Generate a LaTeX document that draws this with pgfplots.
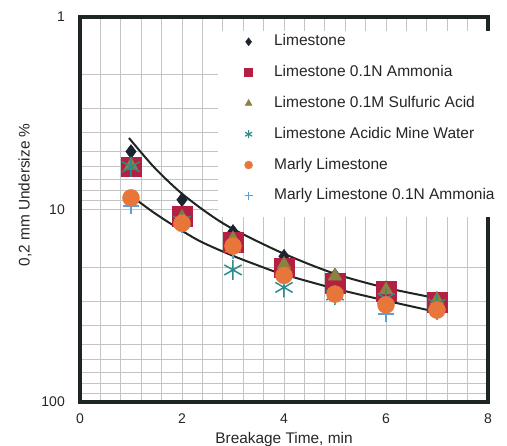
\documentclass[border=0pt]{standalone}
\usepackage{pgfplots}
\pgfplotsset{compat=1.18}
\usepackage{fontspec}
\setmainfont{Liberation Sans}
\definecolor{axcol}{HTML}{1E2622}
\definecolor{gridc}{HTML}{C4C4C4}
\definecolor{cdia}{HTML}{1C2330}
\definecolor{csq}{HTML}{B32041}
\definecolor{ctri}{HTML}{8A8240}
\definecolor{cteal}{HTML}{2C8C8C}
\definecolor{corange}{HTML}{E8763A}
\definecolor{cplus}{HTML}{5E9ED6}
\begin{document}
\begin{tikzpicture}
\begin{axis}[name=ax, scale only axis, width=408bp, height=385bp,
  xmin=0, xmax=8, ymin=1, ymax=100, ymode=log, y dir=reverse,
  xtick={0,2,4,6,8}, minor x tick num=4,
  ytick={1,10,100}, yticklabels={1,10,100},
  grid=both,
  major grid style={gridc, line width=0.9bp},
  minor grid style={gridc, line width=0.9bp},
  major tick length=0pt, minor tick length=0pt,
  axis line style={axcol, line width=3.5bp},
  clip=false,
  /pgf/number format/assume math mode=true,
  ticklabel style={font=\fontsize{14bp}{16bp}\selectfont, text=black!85},
  yticklabel style={anchor=east, inner sep=0pt, xshift=-15bp},
  xticklabel style={anchor=north, inner sep=0pt, yshift=-12bp},
  xlabel={Breakage Time, min},
  ylabel={0,2 mm Undersize \%},
  label style={font=\fontsize{15.4bp}{18bp}\selectfont, text=black!85},
  xlabel style={at={(axis description cs:0.5,-0.0975)}, anchor=center},
  ylabel style={at={(axis description cs:-0.135,0.538)}, anchor=center},
  legend style={draw=none, fill=none, at={(0.403,0.962)}, anchor=north west,
    inner sep=0pt, font=\fontsize{15.5bp}{18bp}\selectfont, text=black!85,
    row sep=10.8bp,
    nodes={inner xsep=3bp, inner ysep=3bp, text height=11bp, text depth=3bp},
    /tikz/every odd column/.append style={column sep=18.5bp}},
  legend cell align=left,
  legend image post style={mark size=4bp},
]
% white area behind the legend
\fill[white] (axis cs:2.7,1.18) rectangle (axis cs:8.7,10.9);

% Limestone
\addplot[forget plot, only marks, mark=diamond*, mark size=7bp, color=cdia]
  coordinates {(1,5.0)(2,8.9)(3,13)(4,17.5)(5,22)(6,25.5)(7,29)};
% Limestone 0.1N Ammonia
\addplot[forget plot, only marks, mark=square*, mark size=9.8bp, color=csq]
  coordinates {(1,6.0)(2,10.8)(3,14.8)(4,20.1)(5,24.1)(6,26.5)(7,30.3)};
% Limestone 0.1M Sulfuric Acid
\addplot[forget plot, only marks, mark=triangle*, mark size=8bp, color=ctri]
  coordinates {(1,5.9)(2,11.0)(3,14.2)(4,19.3)(5,22.2)(6,26.2)(7,29.5)};
% Limestone Acidic Mine Water
\addplot[forget plot, only marks, mark=asterisk, mark size=10bp, color=cteal, line width=1.5bp]
  coordinates {(1,6.0)(2,11.5)(3,20.6)(4,25.4)(5,27.8)(6,29)(7,31)};
% Marly Limestone 0.1N Ammonia
\addplot[forget plot, only marks, mark=+, mark size=8bp, color=cplus, line width=1.5bp]
  coordinates {(1,9.6)(2,12.0)(3,16.5)(4,22.5)(5,28)(6,34.8)(7,34)};
% Marly Limestone
\addplot[forget plot, only marks, mark=*, mark size=8.5bp, color=corange]
  coordinates {(1,8.7)(2,11.8)(3,15.5)(4,22)(5,27.5)(6,31.3)(7,33.3)};

% fitted curves
\addplot[forget plot, smooth, axcol, line width=2bp]
  coordinates {(0.96,4.25)(1.45,6.02)(1.96,8.11)(2.5,10.43)(3.0,12.63)(3.96,16.8)(4.96,21.4)(5.94,25.3)(6.96,28.8)};
\addplot[forget plot, smooth, axcol, line width=2bp]
  coordinates {(0.98,8.41)(1.43,10.3)(1.82,12.04)(2.35,14.6)(3.0,17.4)(3.53,19.7)(3.96,21.6)(4.96,25.6)(5.94,29.5)(7.0,34.1)};

\addlegendimage{only marks, mark=diamond*, color=cdia}
\addlegendentry{Limestone}
\addlegendimage{only marks, mark=square*, color=csq}
\addlegendentry{Limestone 0.1N Ammonia}
\addlegendimage{only marks, mark=triangle*, color=ctri}
\addlegendentry{Limestone 0.1M Sulfuric Acid}
\addlegendimage{only marks, mark=asterisk, color=cteal, line width=1.2bp}
\addlegendentry{Limestone Acidic Mine Water}
\addlegendimage{only marks, mark=*, color=corange}
\addlegendentry{Marly Limestone}
\addlegendimage{only marks, mark=+, color=cplus, line width=1bp}
\addlegendentry{Marly Limestone 0.1N Ammonia}
\end{axis}
\pgfresetboundingbox
\path[use as bounding box] (ax.south west) ++(-80bp,-44bp) rectangle ++(507bp,446bp);
\end{tikzpicture}
\end{document}
